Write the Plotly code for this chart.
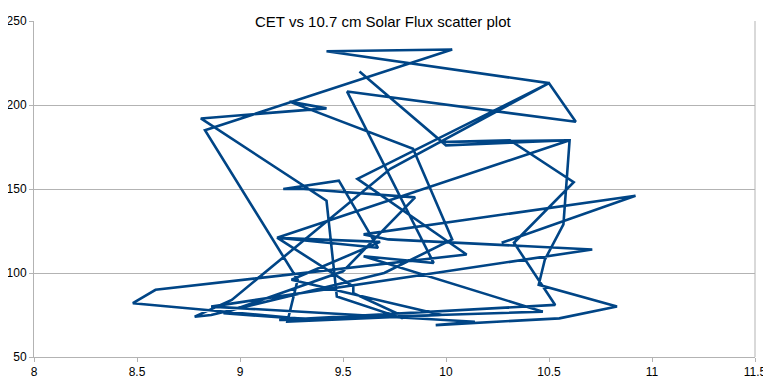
import plotly.graph_objects as go

years = list(range(1947, 2016))
cet = [9.58, 10.00, 10.60, 9.18, 9.68, 9.25, 9.98, 9.23, 9.28, 8.83,
       10.03, 9.42, 10.50, 9.57, 10.10, 8.59, 8.48, 9.37, 8.92, 9.50,
       9.85, 9.31, 9.21, 9.48, 9.67, 9.18, 9.55, 9.55, 9.78, 9.79,
       9.47, 9.42, 8.81, 9.42, 9.24, 9.84, 10.03, 9.70, 8.86, 8.78,
       8.96, 9.73, 10.50, 10.63, 9.52, 9.94, 9.60, 10.24, 10.47, 9.19,
       10.53, 10.33, 10.62, 10.31, 9.97, 10.60, 10.57, 10.48, 10.45, 10.83,
       10.55, 9.95, 10.14, 8.86, 10.71, 9.72, 9.60, 10.92, 10.27]
flux = [220, 176, 179, 121, 118.5, 96, 75, 71, 96, 185,
        233, 232, 213, 156, 111, 90, 82, 72, 76, 101,
        145, 150, 150, 155, 115, 121, 92, 88, 75, 73,
        86, 143, 192, 198, 202, 174, 120, 100, 75, 74,
        84, 162, 213, 190, 208, 106, 110, 86, 77, 72,
        81, 118, 154, 179, 178, 179, 129, 108, 93, 80,
        73, 69, 71, 80, 114, 120, 123, 146, 118]

x_ticks = [8, 8.5, 9, 9.5, 10, 10.5, 11, 11.5]
y_ticks = [50, 100, 150, 200, 250]
title_text = "CET vs 10.7 cm Solar Flux scatter plot"

fig = go.Figure()
fig.add_trace(go.Scatter(x=cet, y=flux, mode="lines",
                         line=dict(color="#004586", width=2.6),
                         hoverinfo="x+y", showlegend=False))

axis_font = dict(family="Liberation Sans, Arial, sans-serif", size=12, color="#000000")
fig.update_layout(
    width=763, height=380,
    margin=dict(l=26, r=16, t=13, b=31, autoexpand=False),
    paper_bgcolor="white", plot_bgcolor="white",
    xaxis=dict(range=[8, 11.5], tickvals=x_ticks, ticktext=[str(v) for v in x_ticks],
               showgrid=False, zeroline=False, showline=True, linecolor="#b3b3b3",
               linewidth=1, ticks="outside", ticklen=4, tickcolor="#b3b3b3",
               tickfont=axis_font, automargin=False),
    yaxis=dict(range=[50, 250], tickvals=y_ticks, showgrid=True, gridcolor="#b3b3b3",
               gridwidth=1, zeroline=False, showline=True, linecolor="#b3b3b3",
               linewidth=1, ticks="outside", ticklen=4, tickcolor="#b3b3b3",
               tickfont=axis_font, automargin=False),
    shapes=[dict(type="line", xref="paper", yref="paper", x0=1, x1=1, y0=0, y1=1,
                 line=dict(color="#b3b3b3", width=1))],
    annotations=[dict(text=title_text, xref="paper", yref="paper", x=0.484, y=1.0,
                      xanchor="center", yanchor="middle", showarrow=False,
                      bgcolor="white", borderpad=1,
                      font=dict(family="Liberation Sans, Arial, sans-serif", size=15,
                                color="#000000"))],
)

fig.write_html("out.html")
